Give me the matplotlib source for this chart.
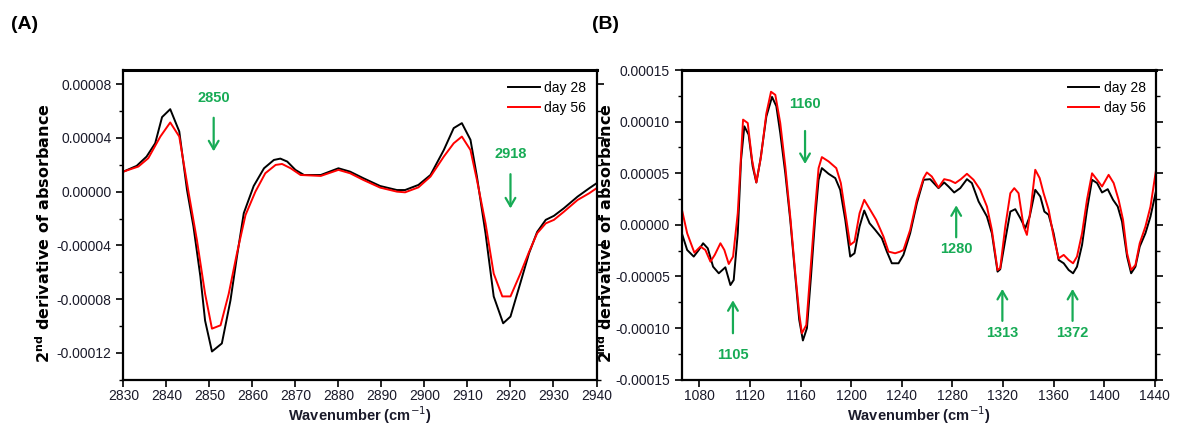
import matplotlib
matplotlib.use("Agg")
import matplotlib.pyplot as plt
from matplotlib.ticker import MultipleLocator, FormatStrFormatter

plt.rcParams['font.family'] = ['Liberation Sans', 'DejaVu Sans']

# panel A: 2830-2940 cm-1 (values x1e-5)
xa_28 = [2830, 2833.1, 2835.4, 2837.4, 2839, 2840.9, 2843, 2844.8, 2846.3, 2847.9,
         2849, 2850.6, 2852.9, 2854.9, 2856.4, 2858, 2860.3, 2862.7, 2865, 2866.5,
         2868.1, 2870, 2872, 2875.9, 2880, 2882.7, 2885.8, 2889.7, 2893.6, 2895.5,
         2898.6, 2901.4, 2904.5, 2906.8, 2908.7, 2910.7, 2912.2, 2914.2, 2916.1, 2918.3,
         2920, 2922.3, 2924.3, 2926.2, 2928.2, 2930.1, 2932.4, 2935.6, 2938.3, 2940]
ya_28 = [1.49, 1.92, 2.61, 3.6, 5.55, 6.14, 4.48, 0.12, -2.6, -6.3,
         -9.6, -11.9, -11.3, -8.1, -4.85, -1.6, 0.42, 1.74, 2.36, 2.46,
         2.24, 1.62, 1.24, 1.24, 1.74, 1.49, 1.0, 0.42, 0.12, 0.12,
         0.5, 1.24, 3.1, 4.73, 5.1, 3.86, 1.12, -3.1, -7.8, -9.8,
         -9.3, -6.8, -4.6, -3.0, -2.1, -1.8, -1.24, -0.37, 0.25, 0.62]
xa_56 = [2830, 2833.5, 2835.8, 2838.6, 2840.9, 2843, 2845.2, 2847.1, 2849, 2850.6,
         2852.6, 2854.5, 2856.4, 2858.4, 2860.7, 2863, 2865.4, 2866.9, 2868.9, 2871.2,
         2875.9, 2880, 2882.7, 2885.8, 2889.7, 2893.6, 2895.5, 2898.6, 2901.4, 2904.5,
         2906.8, 2908.7, 2910.7, 2912.2, 2914.2, 2916.1, 2918.1, 2920, 2922.3, 2924.3,
         2926.2, 2928.2, 2930.1, 2932.4, 2935.6, 2938.3, 2940]
ya_56 = [1.49, 1.87, 2.49, 4.1, 5.15, 4.1, -0.12, -3.6, -7.6, -10.2,
         -9.95, -7.6, -4.6, -1.74, 0.0, 1.37, 1.99, 2.06, 1.74, 1.24,
         1.17, 1.62, 1.37, 0.87, 0.3, 0.0, -0.05, 0.32, 1.12, 2.61,
         3.6, 4.1, 3.1, 0.87, -2.36, -6.1, -7.8, -7.8, -6.1, -4.5,
         -3.1, -2.36, -2.1, -1.5, -0.62, -0.12, 0.25]

# panel B: 1066-1441 cm-1 (values x1e-5)
xb_28 = [1066.5, 1070.3, 1075.5, 1079.5, 1082.9, 1086.6, 1090.8, 1095.3, 1100.5, 1104.5,
         1107.1, 1110.3, 1112.9, 1115.5, 1118.9, 1122.1, 1125, 1128.2, 1132.9, 1137.4,
         1140.8, 1143.9, 1147.9, 1151.8, 1155.8, 1158.9, 1161.8, 1165, 1168.2, 1171.6,
         1174.2, 1176.8, 1182.1, 1187.4, 1191.3, 1195.3, 1199.2, 1202.6, 1206.6, 1210.3,
         1214.5, 1219, 1224.2, 1228.2, 1232.1, 1237.4, 1241.3, 1246.6, 1251.9, 1257.2,
         1262.4, 1269, 1273.5, 1276.9, 1281.4, 1286.2, 1291.5, 1295.4, 1300.7, 1307.3,
         1311.2, 1315.7, 1317.8, 1321.8, 1325.8, 1329.7, 1333.7, 1337.6, 1341.1, 1345.5,
         1349.5, 1352.7, 1356.1, 1360, 1364, 1368, 1371.9, 1375.4, 1378.5, 1382.5,
         1386.4, 1390.4, 1394.4, 1398.3, 1402.8, 1407, 1410.7, 1414.1, 1418.1, 1421.3,
         1424.7, 1428.1, 1432.6, 1436.6, 1441]
yb_28 = [-0.97, -2.43, -3.07, -2.43, -1.78, -2.27, -4.05, -4.69, -4.11, -5.83,
         -5.34, -0.81, 6.31, 9.55, 8.74, 5.66, 4.11, 6.31, 10.5, 12.4,
         11.5, 8.9, 5.0, 0.49, -5.0, -9.2, -11.2, -10.0, -5.0, 0.8,
         4.37, 5.5, 4.95, 4.53, 3.4, 0.49, -3.07, -2.75, -0.16, 1.39,
         0.16, -0.49, -1.29, -2.59, -3.72, -3.72, -2.91, -0.81, 2.1, 4.37,
         4.43, 3.56, 4.11, 3.72, 3.14, 3.56, 4.43, 4.05, 2.27, 0.81,
         -0.81, -4.53, -4.3, -1.46, 1.29, 1.52, 0.65, -0.32, 0.81, 3.4,
         2.75, 1.29, 0.97, -0.81, -3.4, -3.72, -4.37, -4.69, -4.05, -1.94,
         1.46, 4.37, 4.05, 3.14, 3.46, 2.43, 1.78, 0.32, -3.07, -4.69,
         -4.05, -2.1, -0.81, 0.81, 3.3]
xb_56 = [1066.5, 1070.3, 1076, 1080.8, 1084.7, 1088.7, 1092.1, 1096.6, 1099.7, 1103.2,
         1106.6, 1110.3, 1114.5, 1118.2, 1121.6, 1125, 1128.7, 1132.9, 1136.6, 1140,
         1143.9, 1147.9, 1151.8, 1155.8, 1158.9, 1161, 1164.5, 1167.6, 1171.6, 1174.2,
         1176.8, 1182.1, 1188.2, 1191.8, 1195.8, 1199.2, 1202.6, 1206.6, 1210.3, 1215,
         1219.7, 1225.5, 1229.5, 1234.7, 1238.7, 1241.3, 1246.6, 1251.9, 1257.2, 1259.8,
         1263.7, 1269, 1273.5, 1278.2, 1282.3, 1286.7, 1291.5, 1296.7, 1302, 1307.3,
         1311.2, 1315.7, 1317.8, 1321.8, 1325.8, 1328.9, 1332.3, 1336.3, 1338.9, 1342.1,
         1345.5, 1349, 1352.1, 1356.1, 1360, 1364, 1368, 1371.9, 1375.4, 1378.5,
         1382.5, 1386.4, 1390.4, 1394.4, 1398.3, 1403.5, 1407.5, 1411.4, 1414.9, 1418.1,
         1421.3, 1424.7, 1428.1, 1432.6, 1436.6, 1441]
yb_56 = [1.29, -0.81, -2.69, -2.1, -2.43, -3.56, -2.91, -1.78, -2.43, -3.79,
         -3.07, 1.13, 10.2, 9.87, 6.31, 4.11, 6.63, 10.8, 12.9, 12.6,
         9.87, 5.66, 0.8, -4.69, -8.6, -10.5, -9.7, -4.69, 1.78, 5.5,
         6.57, 6.15, 5.5, 4.05, 0.81, -1.94, -1.62, 1.13, 2.43, 1.46,
         0.49, -1.13, -2.59, -2.75, -2.59, -2.43, -0.49, 2.43, 4.53, 5.08,
         4.69, 3.62, 4.43, 4.3, 4.05, 4.43, 4.95, 4.37, 3.4, 1.78,
         -0.49, -4.37, -4.2, -0.16, 3.07, 3.56, 3.07, -0.16, -0.97, 1.78,
         5.34, 4.53, 3.07, 1.46, -1.13, -3.24, -2.91, -3.4, -3.72, -3.07,
         -0.81, 2.43, 5.0, 4.37, 3.72, 4.85, 4.05, 2.43, 0.49, -2.75,
         -4.37, -3.88, -1.78, -0.16, 1.78, 5.34]

# marked bands: label, arrow x, text y, arrow tail y, arrow head y (x1e-5)
bands_a = [("2850", 2851, 6.95, 5.5, 3.0), ("2918", 2920, 2.84, 1.3, -1.25)]
bands_b = [("1105", 1106.5, -12.6, -10.5, -7.3), ("1160", 1163.5, 11.7, 9.1, 5.9),
           ("1280", 1283, -2.3, -1.2, 1.9), ("1313", 1319.5, -10.5, -9.3, -6.2),
           ("1372", 1375, -10.5, -9.3, -6.2)]

green = '#17ab55'
fig = plt.figure(figsize=(11.77, 4.3), dpi=100)
axA = fig.add_axes([0.1048, 0.117, 0.402, 0.72])
axB = fig.add_axes([0.5792, 0.117, 0.403, 0.72])


def style(ax, xlim, ylim, xstep, ystep, ylab_x):
    ax.set_xlim(*xlim)
    ax.set_ylim(*ylim)
    ax.xaxis.set_major_locator(MultipleLocator(xstep))
    ax.yaxis.set_major_locator(MultipleLocator(ystep))
    ax.yaxis.set_minor_locator(MultipleLocator(ystep / 2))
    ax.yaxis.set_major_formatter(FormatStrFormatter('%.5f'))
    for s in ax.spines.values():
        s.set_linewidth(1.6)
    ax.spines['top'].set_linewidth(2.2)
    ax.tick_params(axis='both', which='major', length=5, width=1.2,
                   labelsize=10, labelcolor='#1a1a2a')
    ax.tick_params(axis='x', pad=1.5)
    ax.tick_params(axis='y', which='minor', length=3, width=1.0)
    ax.tick_params(axis='y', which='both', right=True, labelright=False)
    ax.set_xlabel('Wavenumber (cm$^{-1}$)', fontsize=10.5, fontweight='bold',
                  color='#1a1a2a', labelpad=1)
    ax.set_ylabel('2$^{\\mathbf{nd}}$ derivative of absorbance', fontsize=11.5,
                  fontweight='bold', family='DejaVu Sans')
    ax.yaxis.set_label_coords(ylab_x, 0.472)
    ax.legend(frameon=False, loc='upper right', fontsize=10, handlelength=2.3,
              handletextpad=0.3, labelspacing=0.45, borderaxespad=0.35)


def mark(ax, bands):
    for lab, x, ty, y0, y1 in bands:
        ax.annotate('', xy=(x, y1 * 1e-5), xytext=(x, y0 * 1e-5),
                    arrowprops=dict(arrowstyle='->,head_length=0.6,head_width=0.35',
                                    color=green, lw=1.6, shrinkA=0, shrinkB=0))
        ax.text(x, ty * 1e-5, lab, color=green, fontsize=10.5, fontweight='bold',
                ha='center', va='center')


axA.plot(xa_28, [v * 1e-5 for v in ya_28], color='black', lw=1.4, label='day 28')
axA.plot(xa_56, [v * 1e-5 for v in ya_56], color='red', lw=1.4, label='day 56')
style(axA, (2830, 2940), (-0.00014, 0.0000905), 10, 0.00004, -0.149)
mark(axA, bands_a)

axB.plot(xb_28, [v * 1e-5 for v in yb_28], color='black', lw=1.4, label='day 28')
axB.plot(xb_56, [v * 1e-5 for v in yb_56], color='red', lw=1.4, label='day 56')
style(axB, (1066, 1441), (-0.00015, 0.00015), 40, 0.00005, -0.141)
mark(axB, bands_b)

fig.text(0.009, 0.942, '(A)', fontsize=14, fontweight='bold', va='center')
fig.text(0.503, 0.942, '(B)', fontsize=14, fontweight='bold', va='center')

fig.savefig('out.png', dpi=100)
